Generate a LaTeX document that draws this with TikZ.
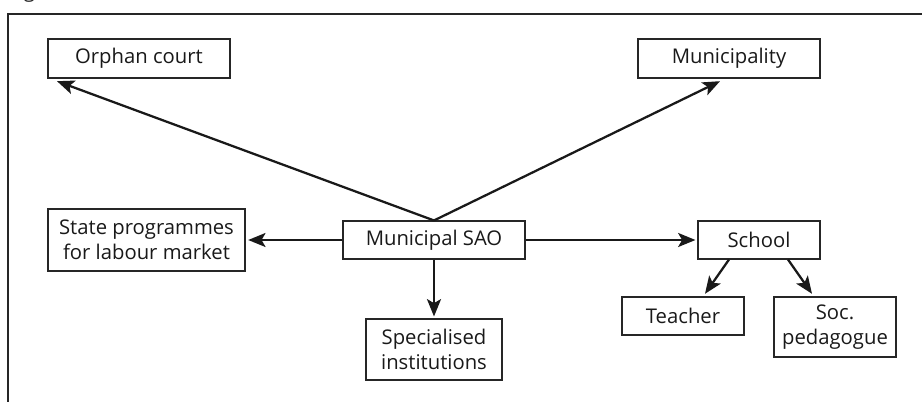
\documentclass[tikz,border=0pt]{standalone}
\usepackage{fontspec}
\setmainfont{Open Sans}
\usetikzlibrary{arrows.meta}
\begin{document}
\begin{tikzpicture}[x=0.75pt,y=-0.75pt,
  box/.style={draw=black!85,line width=0.8pt,inner sep=0pt,align=center,
    font=\fontsize{15.2}{18.75}\selectfont,text=black!90},
  conn/.style={draw=black!90,line width=1.7pt,-{Stealth[length=13pt,width=10.5pt,inset=3pt]}},
  frame/.style={draw=black!85,line width=1.8pt}]
\useasboundingbox (0,0) rectangle (922,402);
\begin{scope}
\clip (0,0) rectangle (922,402);
\node[anchor=base west,font=\fontsize{15.2}{16}\selectfont,text=black!85,inner sep=0pt] (cap) at (8,-2) {Fig};
\end{scope}
\coordinate (ftr) at (922,14);
\coordinate (ftl) at (8,14);
\coordinate (fbl) at (8,402);
\draw[frame] (ftr) -- (ftl) -- (fbl);

\node[box,minimum width=182*0.75pt,minimum height=39*0.75pt] (orphan) at (139,58.5) {Orphan court};
\node[box,minimum width=182*0.75pt,minimum height=39*0.75pt] (muni) at (729,58.5) {Municipality};
\node[box,minimum width=197*0.75pt,minimum height=62*0.75pt] (state) at (146.5,240) {State programmes\\for labour market};
\node[box,minimum width=182*0.75pt,minimum height=38*0.75pt] (sao) at (434,240) {Municipal SAO};
\node[box,minimum width=136*0.75pt,minimum height=61*0.75pt] (spec) at (434,349.5) {Specialised\\institutions};
\node[box,minimum width=122*0.75pt,minimum height=38*0.75pt] (school) at (759,240) {School};
\node[box,minimum width=122*0.75pt,minimum height=38*0.75pt] (teacher) at (683,316) {Teacher};
\node[box,minimum width=122*0.75pt,minimum height=60*0.75pt] (soc) at (835,327) {Soc.\\pedagogue};

\draw[conn] (sao.north) -- ([xshift=-82*0.75pt,yshift=-2pt]orphan.south);
\draw[conn] (sao.north) -- ([xshift=-9*0.75pt,yshift=-2pt]muni.south);
\draw[conn] (sao.west) -- ([xshift=2pt]state.east);
\draw[conn] (sao.south) -- ([yshift=1.5pt]spec.north);
\draw[conn] (sao.east) -- ([xshift=-1.5pt]school.west);
\draw[conn] ([xshift=-30*0.75pt]school.south) -- ([xshift=22*0.75pt,yshift=2pt]teacher.north);
\draw[conn] ([xshift=29*0.75pt]school.south) -- ([xshift=-23*0.75pt,yshift=2pt]soc.north);
\end{tikzpicture}
\end{document}
